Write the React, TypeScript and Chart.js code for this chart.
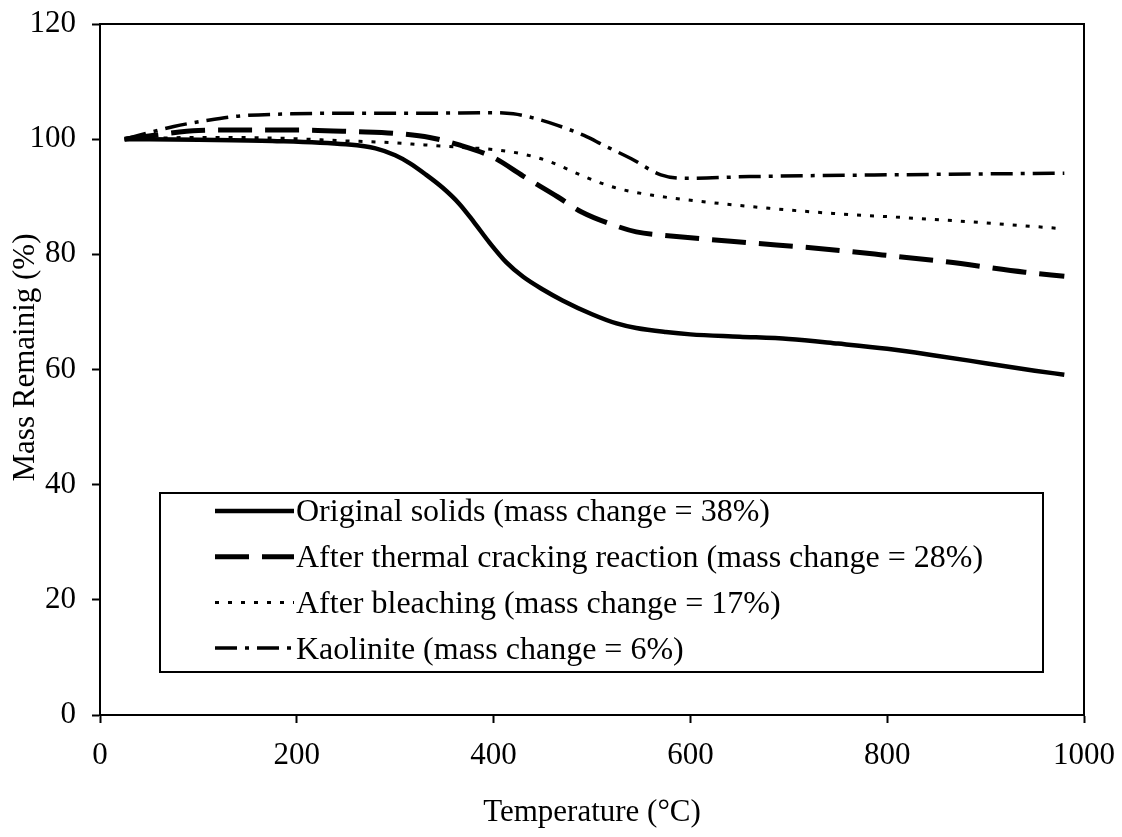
import React, { useEffect, useRef } from "react";
import { Chart, registerables } from "chart.js";

Chart.register(...registerables);

const SERIF = '"Liberation Serif", "Times New Roman", serif';

// Thermogravimetric curves: temperature (°C) vs. mass remaining (%)
const originalTemp = [25, 100, 175, 250, 280, 300, 315, 330, 348, 365, 380, 396, 413, 430, 450, 470, 500, 525, 545, 575, 600, 650, 700, 750, 800, 850, 900, 950, 980];
const originalMass = [100, 99.9, 99.7, 99.1, 98.4, 97.2, 95.8, 94.0, 91.6, 88.8, 85.6, 82.0, 78.6, 76.1, 73.9, 72.0, 69.6, 68.0, 67.2, 66.5, 66.1, 65.7, 65.3, 64.5, 63.6, 62.4, 61.1, 59.8, 59.1];

const crackedTemp = [25, 60, 100, 150, 200, 260, 300, 335, 365, 400, 430, 465, 490, 520, 545, 580, 660, 725, 795, 860, 940, 980];
const crackedMass = [100, 100.8, 101.5, 101.6, 101.6, 101.3, 101.0, 100.3, 99.0, 96.8, 93.6, 90.0, 87.3, 85.2, 83.9, 83.2, 82.0, 81.1, 79.9, 78.7, 76.9, 76.2];

const bleachedTemp = [25, 100, 175, 250, 295, 330, 365, 400, 430, 457, 495, 525, 560, 610, 680, 745, 815, 880, 975];
const bleachedMass = [100, 100.3, 100.2, 99.7, 99.4, 99.0, 98.6, 98.2, 97.4, 96.1, 93.3, 91.5, 90.3, 89.2, 88.0, 87.1, 86.4, 85.7, 84.5];

const kaoliniteTemp = [25, 75, 110, 140, 195, 260, 330, 400, 420, 440, 465, 495, 510, 540, 570, 595, 660, 800, 980];
const kaoliniteMass = [100, 102.2, 103.3, 104.0, 104.4, 104.5, 104.5, 104.6, 104.4, 103.7, 102.4, 100.4, 99.1, 96.6, 93.8, 93.2, 93.5, 93.8, 94.1];

const seriesNames = [
  "Original solids (mass change = 38%)",
  "After thermal cracking reaction (mass change = 28%)",
  "After bleaching (mass change = 17%)",
  "Kaolinite (mass change = 6%)",
];

const xAxisTitle = "Temperature (°C)";
const yAxisTitle = "Mass Remainig (%)";

const toPoints = (temps: number[], mass: number[]) =>
  temps.map((t, i) => ({ x: t, y: mass[i] }));

// Black frame around the plotting area
const plotFrame = {
  id: "plotFrame",
  afterDatasetsDraw(chart: any) {
    const { ctx, chartArea } = chart;
    ctx.save();
    ctx.strokeStyle = "#000";
    ctx.lineWidth = 2;
    ctx.strokeRect(chartArea.left, chartArea.top, chartArea.right - chartArea.left, chartArea.bottom - chartArea.top);
    ctx.restore();
  },
};

// Vertical axis title, set a little above the middle of the plot
const yTitle = {
  id: "yTitle",
  afterDraw(chart: any) {
    const { ctx, chartArea } = chart;
    ctx.save();
    ctx.translate(26, (chartArea.top + chartArea.bottom) / 2 - 12);
    ctx.rotate(-Math.PI / 2);
    ctx.fillStyle = "#000";
    ctx.font = `31px ${SERIF}`;
    ctx.textAlign = "center";
    ctx.textBaseline = "middle";
    ctx.fillText(yAxisTitle, 0, 0);
    ctx.restore();
  },
};

// Boxed legend inside the plot, with line samples drawn in each series' style
const boxedLegend = {
  id: "boxedLegend",
  afterDraw(chart: any) {
    const { ctx } = chart;
    const left = 160;
    const top = 493;
    const right = 1043;
    const bottom = 672;
    ctx.save();
    ctx.fillStyle = "#fff";
    ctx.fillRect(left, top, right - left, bottom - top);
    ctx.strokeStyle = "#000";
    ctx.lineWidth = 2;
    ctx.setLineDash([]);
    ctx.strokeRect(left, top, right - left, bottom - top);

    const rowStart = top + 18;
    const rowStep = 45.7;
    const sampleL = 215;
    const sampleR = 294;
    chart.data.datasets.forEach((ds: any, i: number) => {
      const y = rowStart + i * rowStep;
      ctx.save();
      ctx.strokeStyle = ds.borderColor;
      ctx.lineWidth = ds.borderWidth;
      ctx.setLineDash(ds.borderDash || []);
      ctx.lineCap = "butt";
      ctx.beginPath();
      ctx.moveTo(sampleL, y);
      ctx.lineTo(sampleR, y);
      ctx.stroke();
      ctx.restore();
      ctx.fillStyle = "#000";
      ctx.font = `32px ${SERIF}`;
      ctx.textAlign = "left";
      ctx.textBaseline = "middle";
      ctx.fillText(ds.label, sampleR + 2, y + 2);
    });
    ctx.restore();
  },
};

export default function App() {
  const canvasRef = useRef<HTMLCanvasElement | null>(null);

  useEffect(() => {
    const canvas = canvasRef.current;
    if (!canvas) return;

    const chart = new Chart(canvas, {
      type: "line",
      data: {
        datasets: [
          {
            label: seriesNames[0],
            data: toPoints(originalTemp, originalMass),
            borderColor: "#000",
            borderWidth: 4.5,
            borderDash: [],
            pointRadius: 0,
            cubicInterpolationMode: "monotone",
          },
          {
            label: seriesNames[1],
            data: toPoints(crackedTemp, crackedMass),
            borderColor: "#000",
            borderWidth: 5,
            borderDash: [34, 13],
            pointRadius: 0,
            cubicInterpolationMode: "monotone",
          },
          {
            label: seriesNames[2],
            data: toPoints(bleachedTemp, bleachedMass),
            borderColor: "#000",
            borderWidth: 3,
            borderDash: [4, 9],
            pointRadius: 0,
            cubicInterpolationMode: "monotone",
          },
          {
            label: seriesNames[3],
            data: toPoints(kaoliniteTemp, kaoliniteMass),
            borderColor: "#000",
            borderWidth: 3.5,
            borderDash: [22, 8, 4, 8],
            pointRadius: 0,
            cubicInterpolationMode: "monotone",
          },
        ],
      },
      options: {
        animation: false,
        responsive: false,
        devicePixelRatio: 1,
        layout: { padding: { left: 0, top: 24, right: 38, bottom: 0 } },
        plugins: {
          legend: { display: false },
          tooltip: { enabled: false },
        },
        scales: {
          x: {
            type: "linear",
            min: 0,
            max: 1000,
            afterFit: (scale: any) => {
              scale.height = 122;
              scale.paddingLeft = 0;
              scale.paddingRight = 0;
            },
            ticks: {
              stepSize: 200,
              color: "#000",
              padding: 14,
              font: { family: SERIF, size: 31 },
              callback: (v: any) => String(v),
            },
            grid: {
              drawOnChartArea: false,
              drawTicks: true,
              tickLength: 8,
              tickWidth: 2,
              tickColor: "#000",
            },
            border: { display: true, color: "#000", width: 2 },
            title: {
              display: true,
              text: xAxisTitle,
              color: "#000",
              font: { family: SERIF, size: 31 },
              padding: { top: 0, bottom: 6 },
            },
          },
          y: {
            type: "linear",
            min: 0,
            max: 120,
            afterFit: (scale: any) => {
              scale.width = 100;
              scale.paddingTop = 0;
              scale.paddingBottom = 0;
            },
            ticks: {
              stepSize: 20,
              color: "#000",
              padding: 16,
              font: { family: SERIF, size: 31 },
              callback: (v: any) => String(v),
            },
            grid: {
              drawOnChartArea: false,
              drawTicks: true,
              tickLength: 8,
              tickWidth: 2,
              tickColor: "#000",
            },
            border: { display: true, color: "#000", width: 2 },
          },
        },
      },
      plugins: [plotFrame, yTitle, boxedLegend],
    });

    return () => chart.destroy();
  }, []);

  return (
    <div style={{ position: "absolute", left: 0, top: 0, width: 1122, height: 837, background: "#fff" }}>
      <canvas ref={canvasRef} width={1122} height={837} style={{ display: "block" }} />
    </div>
  );
}
